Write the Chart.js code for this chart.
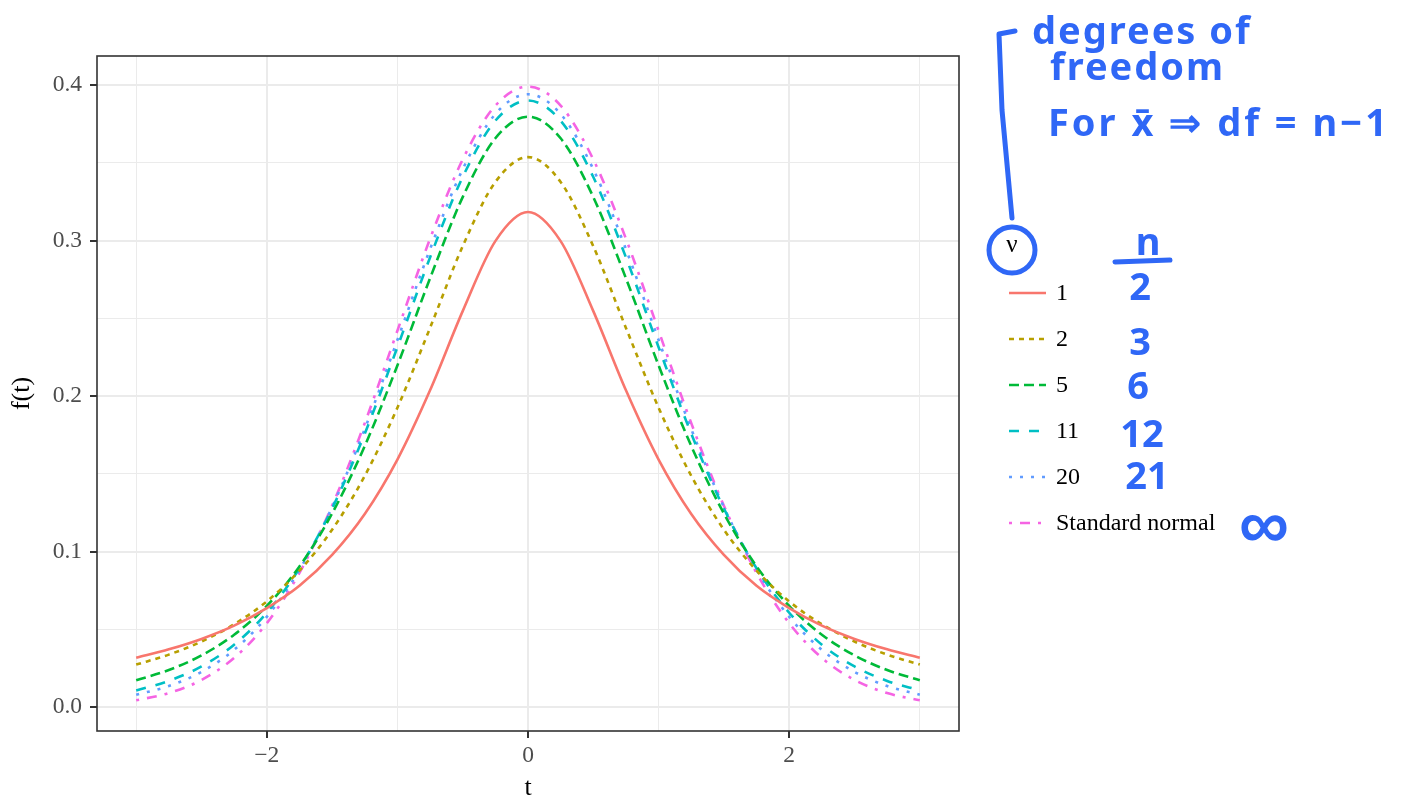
<!DOCTYPE html>
<html>
<head>
<meta charset="utf-8">
<script src="https://cdn.jsdelivr.net/npm/chart.js@4.4.0/dist/chart.umd.min.js"></script>
<style>
  html, body { margin: 0; padding: 0; background: #fff; }
  canvas { display: block; }
</style>
</head>
<body>
<canvas id="myChart" width="1415" height="798"></canvas>
<script>
// t values and density
const tValues = [-3, -2.75, -2.5, -2.25, -2, -1.75, -1.5, -1.25, -1, -0.75, -0.5, -0.25, 0,
                 0.25, 0.5, 0.75, 1, 1.25, 1.5, 1.75, 2, 2.25, 2.5, 2.75, 3];

const nu1 = [0.0318, 0.0372, 0.0439, 0.0524, 0.0637, 0.0780, 0.0979, 0.1242, 0.1592, 0.2037, 0.2546, 0.2996, 0.3183,
             0.2996, 0.2546, 0.2037, 0.1592, 0.1242, 0.0979, 0.0780, 0.0637, 0.0524, 0.0439, 0.0372, 0.0318];
const nu2 = [0.0274, 0.0338, 0.0422, 0.0533, 0.0680, 0.0878, 0.1141, 0.1487, 0.1925, 0.2438, 0.2963, 0.3376, 0.3536,
             0.3376, 0.2963, 0.2438, 0.1925, 0.1487, 0.1141, 0.0878, 0.0680, 0.0533, 0.0422, 0.0338, 0.0274];
const nu5 = [0.0173, 0.0239, 0.0333, 0.0466, 0.0651, 0.0905, 0.1245, 0.1679, 0.2197, 0.2757, 0.3279, 0.3657, 0.3796,
             0.3657, 0.3279, 0.2757, 0.2197, 0.1679, 0.1245, 0.0905, 0.0651, 0.0466, 0.0333, 0.0239, 0.0173];
const nu11 = [0.0108, 0.0169, 0.0262, 0.0402, 0.0607, 0.0893, 0.1277, 0.1758, 0.2314, 0.2891, 0.3408, 0.3770, 0.3900,
              0.3770, 0.3408, 0.2891, 0.2314, 0.1758, 0.1277, 0.0893, 0.0607, 0.0402, 0.0262, 0.0169, 0.0108];
const nu20 = [0.0080, 0.0136, 0.0227, 0.0369, 0.0581, 0.0883, 0.1286, 0.1788, 0.2360, 0.2944, 0.3458, 0.3813, 0.3940,
              0.3813, 0.3458, 0.2944, 0.2360, 0.1788, 0.1286, 0.0883, 0.0581, 0.0369, 0.0227, 0.0136, 0.0080];
const normal = [0.0044, 0.0091, 0.0175, 0.0317, 0.0540, 0.0863, 0.1295, 0.1826, 0.2420, 0.3011, 0.3521, 0.3867, 0.3989,
                0.3867, 0.3521, 0.3011, 0.2420, 0.1826, 0.1295, 0.0863, 0.0540, 0.0317, 0.0175, 0.0091, 0.0044];

const seriesNames = ['1', '2', '5', '11', '20', 'Standard normal'];
const seriesValues = [nu1, nu2, nu5, nu11, nu20, normal];
const seriesColors = ['#F8766D', '#B79F00', '#00BA38', '#00BFC4', '#619CFF', '#F564E3'];
const seriesDashes = [[], [5, 5], [10, 5], [10, 10], [3, 8], [3, 8, 10, 8]];

const xTicks = [-3, -2, -1, 0, 1, 2, 3];
const xLabels = {'-2': '\u22122', '0': '0', '2': '2'};
const yTicks = [0, 0.05, 0.1, 0.15, 0.2, 0.25, 0.3, 0.35, 0.4];

const serif = '"Liberation Serif", "DejaVu Serif", serif';
const ink = '#2f67f6';

const datasets = seriesNames.map((name, i) => ({
  label: name,
  data: tValues.map((t, j) => ({x: t, y: seriesValues[i][j]})),
  borderColor: seriesColors[i],
  backgroundColor: seriesColors[i],
  borderWidth: 2.6,
  borderDash: seriesDashes[i],
  borderCapStyle: 'butt',
  pointRadius: 0,
  cubicInterpolationMode: 'monotone',
  fill: false
}));

// panel border + x title + legend + hand written notes
const extras = {
  id: 'extras',
  afterDraw(chart) {
    const ctx = chart.ctx;
    const a = chart.chartArea;
    ctx.save();
    ctx.strokeStyle = '#333333';
    ctx.lineWidth = 1.6;
    ctx.strokeRect(a.left, a.top, a.right - a.left, a.bottom - a.top);

    ctx.fillStyle = '#000';
    ctx.font = '26px ' + serif;
    ctx.textAlign = 'center';
    ctx.textBaseline = 'alphabetic';
    ctx.fillText('t', (a.left + a.right) / 2, 795);

    // legend
    ctx.font = '25px ' + serif;
    ctx.textBaseline = 'middle';
    ctx.fillText('\u03bd', 1012, 245);
    ctx.font = '24px ' + serif;
    ctx.textAlign = 'left';
    seriesNames.forEach((name, i) => {
      const y = 293 + i * 46;
      ctx.beginPath();
      ctx.strokeStyle = seriesColors[i];
      ctx.lineWidth = 2.6;
      ctx.setLineDash(seriesDashes[i]);
      ctx.moveTo(1009, y);
      ctx.lineTo(1046, y);
      ctx.stroke();
      ctx.setLineDash([]);
      ctx.fillStyle = '#000';
      ctx.fillText(name, 1056, y + 1);
    });

    // notes
    ctx.strokeStyle = ink;
    ctx.fillStyle = ink;
    ctx.lineWidth = 5;
    ctx.lineCap = 'round';
    ctx.lineJoin = 'round';
    ctx.beginPath();
    ctx.moveTo(1015, 31);
    ctx.lineTo(999, 34);
    ctx.lineTo(1002, 110);
    ctx.lineTo(1012, 218);
    ctx.stroke();
    ctx.beginPath();
    ctx.ellipse(1012, 250, 23, 23, 0, 0, Math.PI * 2);
    ctx.stroke();
    ctx.beginPath();
    ctx.moveTo(1115, 262);
    ctx.lineTo(1170, 260);
    ctx.stroke();

    ctx.textBaseline = 'alphabetic';
    ctx.font = 'bold 38px "Noto Sans", sans-serif';
    ctx.letterSpacing = '2px';
    ctx.fillText('degrees of', 1032, 44);
    ctx.fillText('freedom', 1050, 80);
    ctx.letterSpacing = '3px';
    ctx.fillText('For x\u0304 \u21d2 df = n\u22121', 1048, 136);
    ctx.letterSpacing = '0px';
    ctx.font = 'bold 38px "Noto Sans", sans-serif';
    ctx.textAlign = 'center';
    ctx.fillText('n', 1148, 255);
    ctx.fillText('2', 1140, 300);
    ctx.fillText('3', 1140, 355);
    ctx.fillText('6', 1138, 399);
    ctx.fillText('12', 1142, 447);
    ctx.fillText('21', 1147, 489);
    ctx.font = 'bold 70px "Noto Sans", sans-serif';
    ctx.fillText('\u221e', 1264, 548);
    ctx.restore();
  }
};

const config = {
  type: 'line',
  data: {datasets: datasets},
  options: {
    responsive: false,
    animation: false,
    events: [],
    layout: {padding: {left: 0, top: 56, right: 456, bottom: 0}},
    plugins: {legend: {display: false}, tooltip: {enabled: false}},
    scales: {
      x: {
        type: 'linear',
        min: -3.3,
        max: 3.3,
        afterBuildTicks: (s) => { s.ticks = xTicks.map(v => ({value: v})); },
        afterFit: (s) => { s.height = 67; },
        border: {display: false},
        grid: {
          color: '#EBEBEB',
          lineWidth: (c) => (c.tick && c.tick.value % 2 === 0) ? 2 : 1,
          tickColor: (c) => (c.tick && c.tick.value % 2 === 0) ? '#333333' : 'rgba(0,0,0,0)',
          tickLength: 7,
          tickWidth: 2
        },
        ticks: {
          autoSkip: false,
          maxRotation: 0,
          padding: 4,
          color: '#4D4D4D',
          font: {family: serif, size: 23.5},
          callback: (v) => xLabels[String(v)] || ''
        }
      },
      y: {
        type: 'linear',
        min: -0.0153,
        max: 0.4186,
        afterBuildTicks: (s) => { s.ticks = yTicks.map(v => ({value: v})); },
        afterFit: (s) => { s.width = 97; },
        border: {display: false},
        grid: {
          color: '#EBEBEB',
          lineWidth: (c) => (c.tick && Math.round(c.tick.value * 100) % 10 === 0) ? 2 : 1,
          tickColor: (c) => (c.tick && Math.round(c.tick.value * 100) % 10 === 0) ? '#333333' : 'rgba(0,0,0,0)',
          tickLength: 7,
          tickWidth: 2
        },
        ticks: {
          autoSkip: false,
          padding: 8,
          color: '#4D4D4D',
          font: {family: serif, size: 23.5},
          callback: (v) => Math.round(v * 100) % 10 === 0 ? v.toFixed(1) : ''
        },
        title: {display: true, text: 'f(t)', color: '#000', font: {family: serif, size: 26}, padding: {top: 7, bottom: 0}}
      }
    }
  },
  plugins: [extras]
};

const myChart = new Chart(document.getElementById('myChart'), config);
</script>
</body>
</html>
